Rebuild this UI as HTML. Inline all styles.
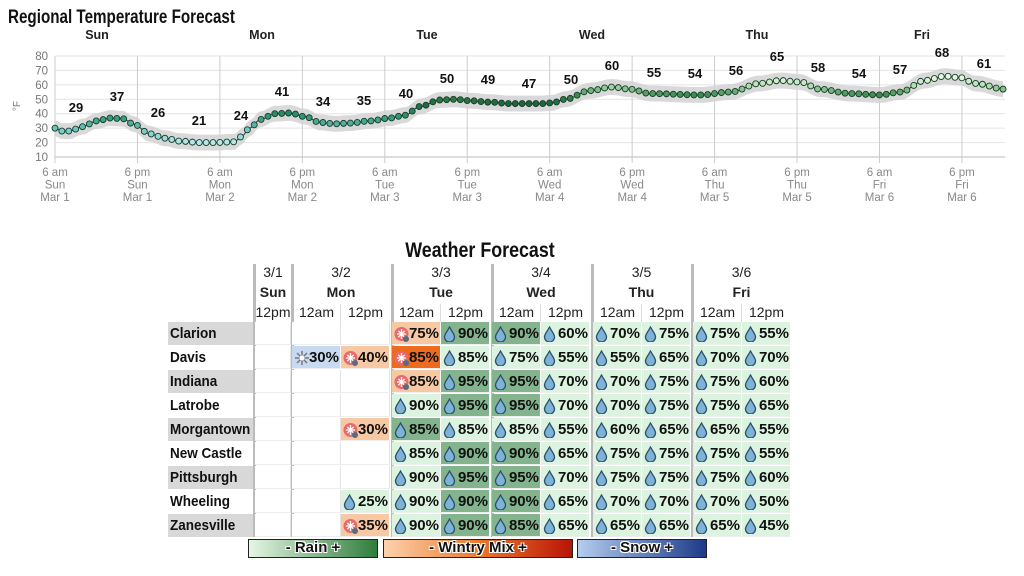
<!DOCTYPE html>
<html><head><meta charset="utf-8">
<style>
body{margin:0;width:1024px;height:576px;background:#fff;overflow:hidden;position:relative;font-family:"Liberation Sans",sans-serif}
.a{position:absolute}
.title{left:8px;top:7px;font-size:19px;font-weight:bold;transform:scaleX(.8);transform-origin:left;color:#111}
.wt{left:380px;top:239px;width:200px;text-align:center;font-size:21px;font-weight:bold;transform:scaleX(.85);color:#111}
.hd{text-align:center;color:#222;font-size:14px}
.cell{position:absolute;height:23px;box-sizing:border-box;font-weight:bold;font-size:15px;color:#111;line-height:23px;text-align:right;padding-right:1px;border-right:1px solid #fff;border-bottom:1px solid #eee}
.nm{position:absolute;left:168px;width:85px;height:23px;font-weight:bold;font-size:15px;line-height:23px;padding-left:2px;box-sizing:border-box;color:#111;white-space:nowrap;overflow:hidden}
.nm span{display:inline-block;transform:scaleX(.9);transform-origin:left}
.ic{position:absolute;left:2px;top:4px}
.leg{position:absolute;top:539px;height:19px;box-sizing:border-box;border:1.5px solid #222;text-align:center;font-weight:900;font-size:15px;line-height:16px;color:#111;text-shadow:-1px -1px 0 #fff,1px -1px 0 #fff,-1px 1px 0 #fff,1px 1px 0 #fff}
</style></head><body>
<div class="a title">Regional Temperature Forecast</div>
<svg class="a" style="left:0;top:0" width="1024" height="220" id="ch"></svg>
<div class="a wt">Weather Forecast</div>
<div id="tb"></div>
<div class="leg" style="left:248px;width:130px;background:linear-gradient(90deg,#e6f6e4,#2f7d3c)">- Rain +</div>
<div class="leg" style="left:383px;width:190px;background:linear-gradient(90deg,#fbd2ae,#ee7a2a 50%,#b81408)">- Wintry Mix +</div>
<div class="leg" style="left:577px;width:130px;background:linear-gradient(90deg,#b4cdf0,#1d3a88)">- Snow +</div>
<script>
const S='http://www.w3.org/2000/svg';const ch=document.getElementById('ch');
function el(t,a,p){const e=document.createElementNS(S,t);for(const k in a)e.setAttribute(k,a[k]);(p||ch).appendChild(e);return e}
const Y=v=>157-(v-10)*101/70;
for(let v=10;v<=80;v+=10){el('line',{x1:55,x2:1005,y1:Y(v),y2:Y(v),stroke:v==10?'#bbb':'#e4e4e4','stroke-width':1});
let t=el('text',{x:48,y:Y(v)+4,'text-anchor':'end','font-size':11.5,fill:'#777'});t.textContent=v;}
let ty=el('text',{x:20,y:106,'font-size':10,fill:'#777',transform:'rotate(-90 20 106)','text-anchor':'middle'});ty.textContent='°F';
const days=['Sun','Mon','Tue','Wed','Thu','Fri'],dates=['Mar 1','Mar 2','Mar 3','Mar 4','Mar 5','Mar 6'];
for(let i=0;i<12;i++){const x=55+i*82.45;el('line',{x1:x,x2:x,y1:56,y2:163,stroke:'#ccc'});
const d=Math.floor(i/2);[i%2?'6 pm':'6 am',days[d],dates[d]].forEach((s,j)=>{let t=el('text',{x:x,y:176+j*12.5,'text-anchor':'middle','font-size':11.5,fill:'#888'});t.textContent=s;});}
days.forEach((d,i)=>{let t=el('text',{x:97+i*165,y:39,'text-anchor':'middle','font-size':12.5,'font-weight':'bold',fill:'#222'});t.textContent=d;});
const P=[[55,30],[62,28],[70,28],[82,31],[97,35],[110,37],[123,36.5],[133,33],[150,26],[165,23],[180,21],[200,20],[213,20],[235,20.5],[241,24],[250,30],[260,36],[275,40],[290,40.5],[305,38],[320,34],[335,33],[350,33.5],[370,35],[390,37],[405,39],[420,45],[440,49.5],[455,50],[470,49],[490,48],[510,47],[540,47],[552,47.5],[565,50],[590,56],[612,58.5],[630,57],[650,54],[700,53],[730,55],[760,61],[780,63],[800,62],[820,57],[850,54],[880,53],[900,55],[925,63],[945,66],[960,65],[975,61],[1005,57]];
function T(x){for(let i=1;i<P.length;i++)if(x<=P[i][0]){const a=P[i-1],b=P[i],f=(x-a[0])/(b[0]-a[0]);const s=(1-Math.cos(f*Math.PI))/2;return a[1]+(b[1]-a[1])*s;}return 57}
let up='',dn=[],ln='';for(let x=55;x<=1005;x+=3){const t=T(x);up+=`${x},${Y(t+5.5)} `;dn.unshift(`${x},${Y(t-5.5)}`);ln+=`${x},${Y(t)} `}
el('polygon',{points:up+dn.join(' '),fill:'#d2d2d2',opacity:.85});
el('polyline',{points:ln,fill:'none',stroke:'#333','stroke-width':1});
const CS=[[18,[200,238,242]],[28,[120,205,205]],[38,[46,150,118]],[47,[30,100,62]],[53,[60,140,80]],[59,[170,220,170]],[64,[225,243,220]],[70,[240,250,236]]];
function col(t){for(let i=1;i<CS.length;i++)if(t<=CS[i][0]){const a=CS[i-1],b=CS[i],f=Math.max(0,(t-a[0])/(b[0]-a[0]));return 'rgb('+a[1].map((v,k)=>Math.round(v+(b[1][k]-v)*f)).join(',')+')'}return 'rgb(240,250,236)'}
for(let x=55;x<=1005;x+=6.87){const t=T(x);el('circle',{cx:x,cy:Y(t),r:3,fill:col(t),stroke:'#163d28','stroke-width':.9});}
[[29,76,112],[37,117,101],[26,158,117],[21,199,125],[24,241,120],[41,282,96],[34,323,106],[35,364,105],[40,406,98],[50,447,83],[49,488,84],[47,529,88],[50,571,84],[60,612,70],[55,654,77],[54,695,78],[56,736,75],[65,777,61],[58,818,72],[54,859,78],[57,900,74],[68,942,57],[61,984,68]].forEach(a=>{let t=el('text',{x:a[1],y:a[2],'text-anchor':'middle','font-size':13,'font-weight':'bold',fill:'#111'});t.textContent=a[0];});
const tb=document.getElementById('tb');let h='';
const cols=[255,292,341,392,441,492,541,593,642,693,742],cw=[36,49,49,49,49,49,49,49,49,49,49];
[[255,291,'3/1','Sun'],[292,390,'3/2','Mon'],[392,490,'3/3','Tue'],[492,590,'3/4','Wed'],[593,690,'3/5','Thu'],[693,790,'3/6','Fri']].forEach(g=>{
h+=`<div class="a hd" style="left:${g[0]}px;width:${g[1]-g[0]}px;top:264px">${g[2]}</div><div class="a hd" style="left:${g[0]}px;width:${g[1]-g[0]}px;top:284px;font-weight:bold">${g[3]}</div>`;});
cols.forEach((x,i)=>{h+=`<div class="a hd" style="left:${x}px;width:${cw[i]}px;top:304px">${i==0||i%2==0?'12pm':'12am'}</div>`});
[253,291,391,491,591,691].forEach(x=>{h+=`<div class="a" style="left:${x}px;top:264px;width:2.5px;height:273px;background:#bbb"></div>`});
[340,440,540,641,741].forEach(x=>{h+=`<div class="a" style="left:${x}px;top:304px;width:1px;height:18px;background:#ddd"></div>`});
const names=['Clarion','Davis','Indiana','Latrobe','Morgantown','New Castle','Pittsburgh','Wheeling','Zanesville'];
const R=[
['','','','w75','r90d','r90d','r60','r70','r75','r75','r55'],
['','s30','w40','W85','r85','r75','r55','r55','r65','r70','r70'],
['','','','w85','r95d','r95d','r70','r70','r75','r75','r60'],
['','','','r90','r95d','r95d','r70','r70','r75','r75','r65'],
['','','w30','r85d','r85','r85','r55','r60','r65','r65','r55'],
['','','','r85','r90d','r90d','r65','r75','r75','r75','r55'],
['','','','r90','r95d','r95d','r70','r75','r75','r75','r60'],
['','','r25','r90','r90d','r90d','r65','r70','r70','r70','r50'],
['','','w35','r90','r90d','r85d','r65','r65','r65','r65','r45']];
const drop='<svg class="ic" width="13" height="16" viewBox="0 0 13 16"><path d="M6.5 1 C4 6 1.5 8 1.5 11 A5 5 0 0 0 11.5 11 C11.5 8 9 6 6.5 1Z" fill="#7fb3d6" stroke="#2b4f6e" stroke-width="1.3"/></svg>';
const wint='<svg class="ic" width="16" height="17" viewBox="0 0 16 17"><circle cx="7.5" cy="8" r="7" fill="#e86a6a"/><path d="M7.5 3v10M3 8h9M4.3 4.8l6.4 6.4M10.7 4.8l-6.4 6.4" stroke="#fff" stroke-width="1.3"/><circle cx="12" cy="13" r="3" fill="#5a6a80"/></svg>';
const snow='<svg class="ic" width="16" height="16" viewBox="0 0 16 16"><path d="M8 1v14M1 8h14M3 3l10 10M13 3L3 13" stroke="#777" stroke-width="1.5"/><circle cx="8" cy="8" r="2.5" fill="#fff"/></svg>';
names.forEach((n,r)=>{const y=322+r*24;const gray=r%2==0;
h+=`<div class="nm" style="top:${y}px;background:${gray?'#d8d8d8':'#fff'}"><span>${n}</span></div>`;
R[r].forEach((c,i)=>{let bg='#fff',ic='',tx='';
if(c){const k=c[0];tx=c.slice(1).replace('d','')+'%';
if(k=='r'){bg=c.endsWith('d')?'#84b48e':'#dcf4df';ic=drop}
else if(k=='w'){bg='#f6c8a4';ic=wint}else if(k=='W'){bg='#ec6b1e';ic=wint}else{bg='#c8daf2';ic=snow}}
h+=`<div class="cell" style="left:${cols[i]}px;top:${y}px;width:${cw[i]}px;background:${bg};${c?'':'border-right:1px solid #e4e4e4;'}">${ic}${tx}</div>`;});});
tb.innerHTML=h;
</script>
</body></html>
